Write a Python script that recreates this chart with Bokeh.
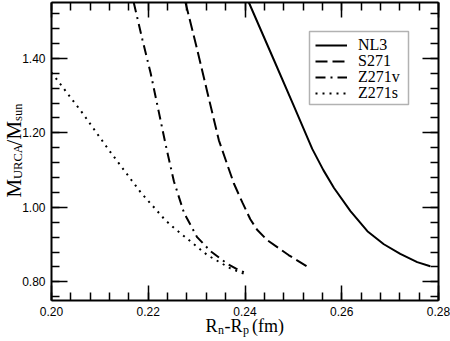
import math
from bokeh.plotting import figure
from bokeh.core.properties import value
from bokeh.models import (LinearAxis, FixedTicker, NumeralTickFormatter, Range1d,
                          Legend, LegendItem, BoxAnnotation, ColumnDataSource)
from bokeh.embed import file_html
from bokeh.resources import INLINE

# ---- data ----
nl3_x = [0.2408, 0.2460, 0.2500, 0.2539, 0.2562, 0.2584, 0.2618, 0.2653, 0.2687, 0.2721, 0.2756, 0.2783]
nl3_y = [1.550, 1.395, 1.275, 1.157, 1.100, 1.052, 0.990, 0.936, 0.901, 0.875, 0.853, 0.842]

s271_x = [0.2277, 0.2300, 0.2322, 0.2346, 0.2362, 0.2377, 0.2395, 0.2411, 0.2425, 0.2446, 0.2490, 0.2535]
s271_y = [1.550, 1.430, 1.310, 1.180, 1.120, 1.064, 1.012, 0.968, 0.940, 0.912, 0.872, 0.836]

z271v_x = [0.2170, 0.2188, 0.2205, 0.2222, 0.2236, 0.2253, 0.2274, 0.2301, 0.2329, 0.2363, 0.2385, 0.2405]
z271v_y = [1.550, 1.450, 1.360, 1.255, 1.168, 1.070, 0.985, 0.920, 0.882, 0.849, 0.833, 0.822]

z271s_x = [0.2000, 0.2063, 0.2118, 0.2166, 0.2184, 0.2235, 0.2253, 0.2322, 0.2370, 0.2405]
z271s_y = [1.362, 1.255, 1.155, 1.072, 1.041, 0.966, 0.945, 0.872, 0.836, 0.818]

series_names = ["NL3", "S271", "Z271v", "Z271s"]

x_major = [0.20, 0.22, 0.24, 0.26, 0.28]
x_minor = [0.200, 0.204, 0.208, 0.212, 0.216, 0.220, 0.224, 0.228, 0.232, 0.236, 0.240,
           0.244, 0.248, 0.252, 0.256, 0.260, 0.264, 0.268, 0.272, 0.276, 0.280]
y_major = [0.80, 1.00, 1.20, 1.40]
y_minor = [0.76, 0.80, 0.84, 0.88, 0.92, 0.96, 1.00, 1.04, 1.08, 1.12, 1.16, 1.20,
           1.24, 1.28, 1.32, 1.36, 1.40, 1.44, 1.48, 1.52]

X0, X1 = 0.20, 0.28
Y0, Y1 = 0.75, 1.55

# ---- layout (canvas pixels) ----
W, H = 450, 341
FL, FR, FT, FB = 51, 438, 2, 300  # frame edges


def dx(px):
    return X0 + (px - FL) * (X1 - X0) / (FR - FL)


def dy(py):
    return Y0 + (FB - py) * (Y1 - Y0) / (FB - FT)


p = figure(width=W, height=H, x_range=Range1d(X0, X1), y_range=Range1d(Y0, Y1),
           output_backend="svg", toolbar_location=None,
           min_border_left=FL, min_border_right=W - FR, min_border_top=FT, min_border_bottom=H - FB)
p.xgrid.visible = False
p.ygrid.visible = False
p.outline_line_color = None
p.background_fill_color = "white"
p.border_fill_color = "white"

xt = FixedTicker(ticks=x_major, minor_ticks=x_minor)
yt = FixedTicker(ticks=y_major, minor_ticks=y_minor)


def style_axis(ax, show_labels, major_len):
    ax.axis_line_color = "black"
    ax.axis_line_width = 2
    ax.major_tick_line_color = "black"
    ax.major_tick_line_width = 1.5
    ax.minor_tick_line_color = "black"
    ax.minor_tick_line_width = 1.5
    ax.major_tick_out = 0
    ax.minor_tick_out = 0
    ax.major_tick_in = major_len
    ax.minor_tick_in = 8
    ax.formatter = NumeralTickFormatter(format="0.00")
    if show_labels:
        ax.major_label_text_font = "Liberation Sans"
        ax.major_label_text_font_size = "12px"
        ax.major_label_text_color = "black"
        ax.major_label_standoff = 6
    else:
        ax.major_label_text_font_size = "0px"
        ax.major_label_text_color = None
        ax.major_label_standoff = 0


p.xaxis.ticker = xt
p.yaxis.ticker = yt
style_axis(p.xaxis[0], True, 15)
style_axis(p.yaxis[0], True, 16)

top = LinearAxis(ticker=xt)
style_axis(top, False, 15)
p.add_layout(top, "above")
right = LinearAxis(ticker=yt)
style_axis(right, False, 16)
p.add_layout(right, "right")

# ---- curves ----
r1 = p.line(nl3_x, nl3_y, line_color="black", line_width=2)
r2 = p.line(s271_x, s271_y, line_color="black", line_width=2, line_dash="12 5")
r3 = p.line(z271v_x, z271v_y, line_color="black", line_width=2, line_dash="10 5 2 5")
r4 = p.line(z271s_x, z271s_y, line_color="black", line_width=2, line_dash="2 5")
renderers = [r1, r2, r3, r4]

# ---- legend: framed box + one tight row per series ----
box = BoxAnnotation(left=dx(309), right=dx(408), top=dy(31), bottom=dy(104),
                    fill_color="white", fill_alpha=1.0,
                    line_color="black", line_width=1.5)
p.add_layout(box)

row_centres = [44.5, 60.8, 77.1, 93.4]
for name, r, cy in zip(series_names, renderers, row_centres):
    lg = Legend(items=[LegendItem(label=name, renderers=[r])],
                location=(315 - FL, FB - (cy + 9)),
                label_text_font="Liberation Serif", label_text_font_size="16px",
                label_text_color="black",
                glyph_width=32, glyph_height=12, label_height=12, label_standoff=11,
                padding=0, spacing=0, margin=0,
                border_line_color=None, background_fill_alpha=0.0)
    p.add_layout(lg)


# ---- axis titles (text pieces, drawn at overlay level so they sit outside the frame) ----
def title_pieces(pieces, size, angle, align, baseline):
    src = ColumnDataSource(dict(x=[dx(a) for _, a, _ in pieces],
                                y=[dy(b) for _, _, b in pieces],
                                text=[t for t, _, _ in pieces]))
    p.text(x="x", y="y", text="text", source=src, angle=angle,
           text_font=value("Liberation Serif"), text_font_size=value(size),
           text_color="black", text_align=value(align), text_baseline=value(baseline),
           level="overlay")


# x axis title: R_n-R_p (fm)  (left / alphabetic anchors)
title_pieces([("R", 205, 325), ("-R", 224, 325), ("(fm)", 251.5, 325)], "18px", 0.0, "left", "alphabetic")
title_pieces([("n", 217.5, 329), ("p", 242.5, 329)], "12px", 0.0, "left", "alphabetic")

# y axis title: M_URCA/M_sun, reading bottom to top (centre anchors)
A = math.pi / 2
title_pieces([("M", 13, 187.7), ("/M", 13, 132.7)], "21px", A, "center", "middle")
title_pieces([("URCA", 17.8, 161.1), ("sun", 17.8, 111.8)], "12.5px", A, "center", "middle")

open("out.html", "w").write(file_html(p, INLINE))
